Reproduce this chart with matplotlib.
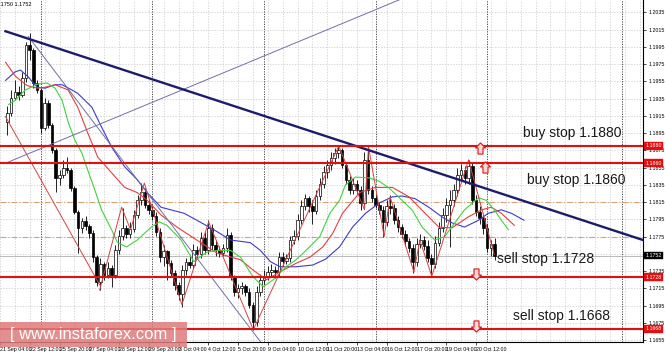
import numpy as np
import matplotlib
matplotlib.use("Agg")
import matplotlib.pyplot as plt
from matplotlib.path import Path
from matplotlib.patches import Rectangle

plt.rcParams['font.family'] = ['Liberation Sans', 'DejaVu Sans']

# EURUSD H4 candles, open of the first bar then close / high / low of each bar
first_open = 1.1908
close = [1.1918, 1.1936, 1.1943, 1.1939, 1.1959, 1.1997, 1.1991, 1.1953, 1.1945, 1.1901,
         1.1930, 1.1904, 1.1875, 1.1843, 1.1846, 1.1855, 1.1852, 1.1831, 1.1804, 1.1785,
         1.1793, 1.1787, 1.1779, 1.1751, 1.1722, 1.1743, 1.1730, 1.1739, 1.1730, 1.1759,
         1.1776, 1.1785, 1.1778, 1.1784, 1.1800, 1.1817, 1.1827, 1.1812, 1.1806, 1.1799,
         1.1780, 1.1751, 1.1758, 1.1744, 1.1733, 1.1719, 1.1708, 1.1736, 1.1746, 1.1742,
         1.1759, 1.1755, 1.1773, 1.1759, 1.1785, 1.1765, 1.1759, 1.1756, 1.1762, 1.1777,
         1.1728, 1.1711, 1.1715, 1.1718, 1.1711, 1.1696, 1.1676, 1.1711, 1.1725, 1.1729,
         1.1734, 1.1736, 1.1734, 1.1751, 1.1747, 1.1750, 1.1771, 1.1776, 1.1794, 1.1810,
         1.1820, 1.1810, 1.1805, 1.1822, 1.1836, 1.1850, 1.1858, 1.1866, 1.1872, 1.1875,
         1.1858, 1.1841, 1.1829, 1.1836, 1.1829, 1.1814, 1.1864, 1.1829, 1.1820, 1.1812,
         1.1806, 1.1792, 1.1810, 1.1808, 1.1794, 1.1786, 1.1778, 1.1770, 1.1762, 1.1746,
         1.1766, 1.1771, 1.1764, 1.1750, 1.1743, 1.1768, 1.1785, 1.1800, 1.1812, 1.1817,
         1.1829, 1.1846, 1.1852, 1.1843, 1.1857, 1.1817, 1.1804, 1.1797, 1.1785, 1.1762,
         1.1766, 1.1753]
high = [1.1926, 1.1945, 1.1956, 1.1950, 1.1966, 1.2001, 1.2011, 1.1994, 1.1956, 1.1947,
        1.1936, 1.1933, 1.1907, 1.1878, 1.1852, 1.1864, 1.1867, 1.1855, 1.1834, 1.1806,
        1.1797, 1.1799, 1.1790, 1.1783, 1.1754, 1.1750, 1.1746, 1.1746, 1.1742, 1.1765,
        1.1783, 1.1808, 1.1788, 1.1792, 1.1806, 1.1823, 1.1837, 1.1831, 1.1817, 1.1812,
        1.1804, 1.1785, 1.1765, 1.1759, 1.1748, 1.1736, 1.1722, 1.1742, 1.1750, 1.1754,
        1.1766, 1.1764, 1.1780, 1.1780, 1.1794, 1.1790, 1.1771, 1.1764, 1.1766, 1.1785,
        1.1780, 1.1730, 1.1720, 1.1722, 1.1720, 1.1715, 1.1699, 1.1718, 1.1732, 1.1736,
        1.1741, 1.1743, 1.1741, 1.1757, 1.1757, 1.1755, 1.1776, 1.1783, 1.1801, 1.1817,
        1.1824, 1.1822, 1.1817, 1.1829, 1.1843, 1.1857, 1.1864, 1.1873, 1.1878, 1.1881,
        1.1878, 1.1861, 1.1845, 1.1843, 1.1841, 1.1834, 1.1873, 1.1879, 1.1834, 1.1824,
        1.1815, 1.1810, 1.1817, 1.1823, 1.1813, 1.1799, 1.1790, 1.1783, 1.1773, 1.1766,
        1.1773, 1.1778, 1.1776, 1.1771, 1.1755, 1.1776, 1.1792, 1.1808, 1.1820, 1.1829,
        1.1836, 1.1855, 1.1859, 1.1857, 1.1864, 1.1861, 1.1823, 1.1810, 1.1801, 1.1790,
        1.1771, 1.1773]
low = [1.1893, 1.1915, 1.1933, 1.1933, 1.1937, 1.1954, 1.1980, 1.1947, 1.1941, 1.1895,
       1.1899, 1.1901, 1.1872, 1.1827, 1.1835, 1.1843, 1.1849, 1.1828, 1.1801, 1.1756,
       1.1779, 1.1783, 1.1773, 1.1746, 1.1718, 1.1713, 1.1725, 1.1727, 1.1717, 1.1727,
       1.1755, 1.1771, 1.1773, 1.1773, 1.1780, 1.1797, 1.1812, 1.1808, 1.1801, 1.1794,
       1.1776, 1.1746, 1.1741, 1.1725, 1.1729, 1.1713, 1.1702, 1.1693, 1.1730, 1.1739,
       1.1739, 1.1750, 1.1750, 1.1755, 1.1755, 1.1759, 1.1753, 1.1751, 1.1753, 1.1757,
       1.1725, 1.1706, 1.1704, 1.1708, 1.1706, 1.1692, 1.1667, 1.1671, 1.1706, 1.1720,
       1.1725, 1.1729, 1.1727, 1.1729, 1.1741, 1.1743, 1.1746, 1.1766, 1.1771, 1.1790,
       1.1806, 1.1804, 1.1790, 1.1801, 1.1817, 1.1831, 1.1843, 1.1852, 1.1859, 1.1866,
       1.1855, 1.1836, 1.1824, 1.1824, 1.1824, 1.1806, 1.1810, 1.1824, 1.1815, 1.1808,
       1.1801, 1.1775, 1.1787, 1.1801, 1.1790, 1.1780, 1.1773, 1.1764, 1.1757, 1.1733,
       1.1741, 1.1762, 1.1759, 1.1746, 1.1728, 1.1739, 1.1764, 1.1780, 1.1792, 1.1763,
       1.1810, 1.1822, 1.1841, 1.1836, 1.1836, 1.1813, 1.1799, 1.1790, 1.1778, 1.1757,
       1.1753, 1.1748]

# alligator lines (bar index, price)
jaw_idx = [-0.5, 2.1, 3.5, 5.6, 8.0, 10.1, 12.8, 14.7, 17.3, 18.9, 22.7, 25.3, 28.0, 31.5, 34.9,
           37.6, 41.3, 44.8, 47.5, 50.9, 55.5, 60.0, 65.3, 68.0, 70.7, 73.3, 77.6, 82.1, 85.6, 89.3,
           92.8, 96.3, 100.0, 103.5, 106.1, 109.6, 113.3, 116.8, 119.5, 122.9, 126.7, 129.3, 132.8,
           135.5, 138.9]
jaw = [1.1956, 1.1966, 1.1968, 1.1960, 1.1948, 1.1947, 1.1951, 1.1951, 1.1945, 1.1941, 1.1925,
       1.1902, 1.1879, 1.1856, 1.1841, 1.1826, 1.1809, 1.1805, 1.1802, 1.1794, 1.1783, 1.1771,
       1.1768, 1.1759, 1.1746, 1.1740, 1.1740, 1.1742, 1.1749, 1.1763, 1.1786, 1.1802, 1.1814,
       1.1821, 1.1822, 1.1819, 1.1809, 1.1798, 1.1791, 1.1786, 1.1794, 1.1802, 1.1806, 1.1802,
       1.1794]
teeth_idx = [-0.5, 2.1, 5.3, 8.0, 10.1, 12.8, 16.3, 18.9, 21.6, 24.3, 28.0, 31.5, 34.9, 37.6,
             41.3, 45.6, 50.9, 56.3, 62.7, 66.1, 69.6, 73.3, 77.6, 81.3, 84.8, 87.5, 90.1, 94.7,
             98.9, 103.5, 108.0, 112.3, 116.0, 119.5, 124.0, 127.5, 130.1, 132.8, 136.3]
teeth = [1.1977, 1.1961, 1.1950, 1.1947, 1.1948, 1.1951, 1.1945, 1.1925, 1.1895, 1.1867, 1.1849,
         1.1832, 1.1826, 1.1817, 1.1800, 1.1786, 1.1771, 1.1756, 1.1748, 1.1736, 1.1725, 1.1734,
         1.1744, 1.1751, 1.1763, 1.1779, 1.1802, 1.1826, 1.1832, 1.1832, 1.1821, 1.1802, 1.1786,
         1.1785, 1.1798, 1.1806, 1.1809, 1.1802, 1.1788]
lips_idx = [0.3, 2.1, 4.8, 8.3, 10.7, 12.8, 14.7, 16.3, 18.1, 20.0, 21.6, 23.5, 25.3, 28.0, 29.6,
            32.0, 34.9, 38.7, 40.8, 42.9, 46.7, 50.1, 53.6, 56.8, 60.0, 62.7, 66.1, 68.8, 71.5,
            74.9, 77.6, 80.3, 84.0, 86.7, 89.3, 90.9, 93.6, 97.3, 100.0, 102.7, 106.1, 108.8,
            111.5, 114.9, 117.6, 120.3, 122.9, 126.7, 128.8, 130.9, 132.8, 134.7]
lips = [1.1928, 1.1933, 1.1945, 1.1952, 1.1953, 1.1947, 1.1933, 1.1908, 1.1887, 1.1872, 1.1852,
        1.1829, 1.1806, 1.1783, 1.1768, 1.1763, 1.1771, 1.1786, 1.1792, 1.1788, 1.1771, 1.1746,
        1.1757, 1.1759, 1.1759, 1.1751, 1.1728, 1.1717, 1.1725, 1.1740, 1.1748, 1.1759, 1.1775,
        1.1802, 1.1817, 1.1835, 1.1844, 1.1843, 1.1839, 1.1831, 1.1817, 1.1806, 1.1786, 1.1771,
        1.1775, 1.1791, 1.1806, 1.1820, 1.1817, 1.1806, 1.1794, 1.1783]

# zigzag swing points
zz_idx = [24.8, 30.7, 33.1, 36.8, 46.9, 54.1, 66.1, 89.1, 96.0, 97.1, 101.3, 102.9, 109.3,
          110.9, 114.1, 124.0, 130.9]
zz = [1.1713, 1.1809, 1.1783, 1.1837, 1.1696, 1.1792, 1.1667, 1.1880, 1.1806, 1.1879, 1.1775,
      1.1821, 1.1734, 1.1771, 1.1729, 1.1864, 1.1754]

# hand drawn trend lines (bar index pairs, price pairs)
main_trend_idx = [-0.53, 170.9]
main_trend = [1.2013, 1.1771]
rising_idx = [-0.53, 114.1]
rising = [1.1860, 1.2065]
fall_idx = [5.6, 69.3]
fall = [1.2007, 1.1646]
red_chan_idx = [-0.5, 24.8]
red_chan = [1.1914, 1.1719]

order_levels = [1.1880, 1.1860, 1.1728, 1.1668]
order_text = ['buy stop 1.1880', 'buy stop 1.1860', 'sell stop 1.1728', 'sell stop 1.1668']
order_text_idx = [138.7, 139.7, 131.7, 136.0]
order_text_price = [1.1895, 1.1841, 1.1749, 1.1683]
arrow_idx = [127.2, 128.3, 126.1, 126.1]
arrow_price = [1.1878, 1.1856, 1.1732, 1.1671]
arrow_up = [True, True, False, False]

dashed_green_level = 1.1862
fib_levels = [1.1815, 1.1775]
bid = 1.1753

box_levels = [1.1880, 1.1860, 1.1753, 1.1728, 1.1668]
box_text = ['1.1880', '1.1860', '1.1752', '1.1728', '1.1668']
box_color = ['#e01010', '#e01010', 'black', '#e01010', '#e01010']

price_ticks = [1.2035, 1.2015, 1.1995, 1.1975, 1.1955, 1.1935, 1.1915, 1.1895, 1.1875, 1.1855,
               1.1835, 1.1815, 1.1795, 1.1775, 1.1755, 1.1735, 1.1715, 1.1695, 1.1675, 1.1655]
hidden_tick = 1.1755   # sits under the current price box
date_idx = [-2, 6, 14, 22, 30, 38, 46, 54, 62, 70, 78, 86, 94, 102, 110, 118, 126]
date_text = ['21 Sep 04:00', '22 Sep 12:00', '25 Sep 20:00', '27 Sep 04:00', '28 Sep 12:00',
             '29 Sep 20:00', '3 Oct 04:00', '4 Oct 12:00', '5 Oct 20:00', '9 Oct 04:00',
             '10 Oct 12:00', '11 Oct 20:00', '13 Oct 04:00', '16 Oct 12:00', '17 Oct 20:00',
             '19 Oct 04:00', '20 Oct 12:00']
week_sep = [9, 39, 69, 99, 129, 165.3]
grid_idx = list(range(-2, 171, 4))

fig = plt.figure(figsize=(6.65, 3.56), dpi=100)
fig.patch.set_facecolor('white')
ax = fig.add_axes([0, 14 / 356, 643 / 665, 342 / 356])
ax.set_xlim(-0.53, 170.9)
ax.set_ylim(1.16528, 1.20492)

# grid
for g in grid_idx:
    ax.axvline(g, color='#c8c8c8', lw=0.5, ls=(0, (2, 2)), zorder=0)
for t in price_ticks:
    ax.axhline(t, color='#c8c8c8', lw=0.5, ls=(0, (2, 2)), zorder=0)
for w in week_sep:
    ax.axvline(w, color='#333333', lw=0.6, ls=(0, (1.5, 1.5)), zorder=1)

# fib / helper levels
ax.axhline(dashed_green_level, color='#8fae8f', lw=0.8, ls=(0, (4, 3)), zorder=1)
for f in fib_levels:
    ax.axhline(f, color='#d9a070', lw=0.8, ls=(0, (5, 2, 1, 2)), zorder=1)
ax.axhline(bid, color='#b8b8b8', lw=0.7, zorder=1)

# candles
idx = np.arange(len(close))
opens = [first_open] + close[:-1]
o = np.array(opens)
c = np.array(close)
ax.vlines(idx, low, high, color='black', lw=0.6, zorder=3)
body_lo = np.minimum(o, c)
body_h = np.maximum(np.abs(c - o), 0.00006)
cols = ['white' if cc >= oo else 'black' for oo, cc in zip(o, c)]
ax.bar(idx, body_h, bottom=body_lo, width=0.7, color=cols, edgecolor='black', lw=0.5, zorder=4)

# alligator
ax.plot(jaw_idx, jaw, color='#3c3cc8', lw=0.8, zorder=5)
ax.plot(teeth_idx, teeth, color='#e04040', lw=0.8, zorder=5)
ax.plot(lips_idx, lips, color='#3fd23f', lw=0.8, zorder=5)

# zigzag and trend lines
ax.plot(zz_idx, zz, color='#d04545', lw=0.7, zorder=5)
ax.plot(red_chan_idx, red_chan, color='#d04545', lw=0.7, zorder=5)
ax.plot(rising_idx, rising, color='#7070a8', lw=0.7, zorder=5)
ax.plot(fall_idx, fall, color='#7070a8', lw=0.7, zorder=5)
ax.plot(main_trend_idx, main_trend, color='#1c1c6c', lw=1.7, zorder=6)

# pending order levels
for lv in order_levels:
    ax.axhline(lv, color='#e01010', lw=1.5, zorder=6)
for tx, xi, yp in zip(order_text, order_text_idx, order_text_price):
    ax.text(xi, yp, tx, fontsize=10, color='#1a1a1a', va='center', ha='left', zorder=8)

up_arrow = Path([(-0.45, -1), (0.45, -1), (0.45, 0.1), (0.9, 0.1), (0, 1), (-0.9, 0.1),
                 (-0.45, 0.1), (-0.45, -1)], closed=True)
down_arrow = Path([(-0.45, 1), (0.45, 1), (0.45, -0.1), (0.9, -0.1), (0, -1), (-0.9, -0.1),
                   (-0.45, -0.1), (-0.45, 1)], closed=True)
for xi, yp, up in zip(arrow_idx, arrow_price, arrow_up):
    ax.plot(xi, yp, marker=up_arrow if up else down_arrow, ms=8, mfc='#ffd8d8',
            mec='#e01010', mew=0.8, zorder=9)

# axes styling
for s in ['left', 'top']:
    ax.spines[s].set_visible(False)
for s in ['right', 'bottom']:
    ax.spines[s].set_linewidth(0.8)
ax.yaxis.tick_right()
ax.set_yticks(price_ticks)
ax.set_yticklabels(['' if t == hidden_tick else '%.4f' % t for t in price_ticks])
ax.tick_params(axis='y', labelsize=3.8, length=2, width=0.5, pad=2)
ax.set_xticks(date_idx)
ax.set_xticklabels(date_text, ha='left')
ax.tick_params(axis='x', labelsize=3.8, length=2, width=0.5, pad=1.5)

ytr = ax.get_yaxis_transform()
for lv, tx, col in zip(box_levels, box_text, box_color):
    ax.text(1.004, lv, tx, transform=ytr, fontsize=3.8, color='white', va='center', ha='left',
            clip_on=False, zorder=10,
            bbox=dict(boxstyle='square,pad=0.25', fc=col, ec=col, lw=0.3))

fig.text(-0.006, 0.995, '1.1750 1.1752', fontsize=4, va='top', ha='left')

# watermark
fig.patches.append(Rectangle((0, 9 / 356), 187 / 665, 25 / 356, transform=fig.transFigure,
                             facecolor='#e07c7c', alpha=0.85, edgecolor='none', zorder=20))
fig.text(10 / 665, 21.5 / 356, '[ www.instaforex.com ]', fontsize=12, color='white',
         va='center', ha='left', zorder=21)

fig.savefig('out.png', dpi=100)
